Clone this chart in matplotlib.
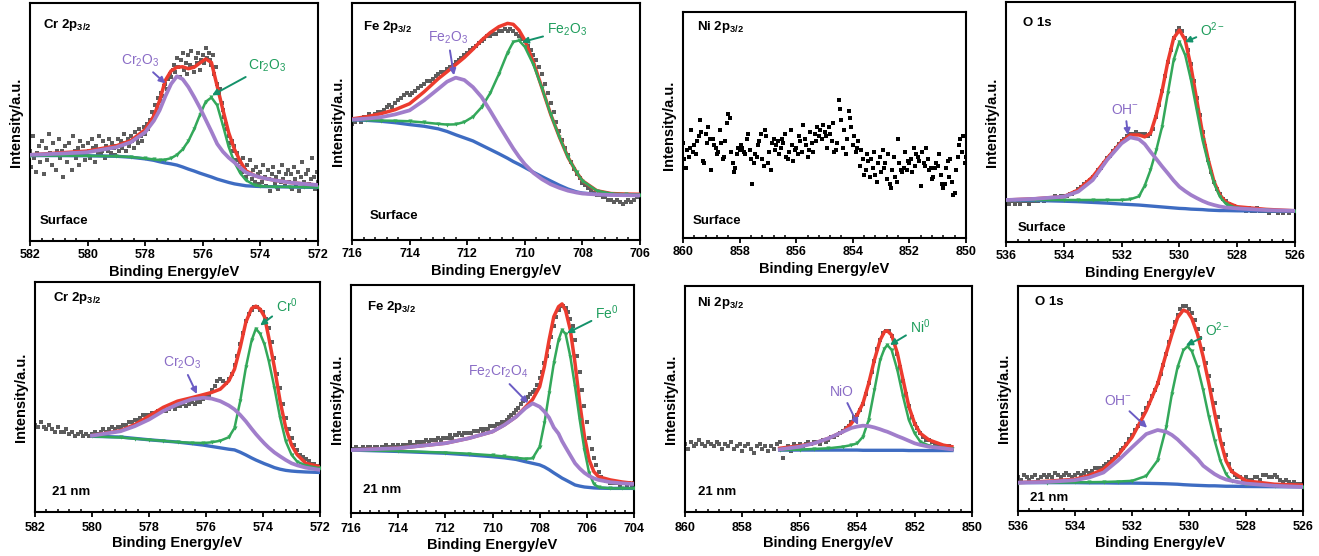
import numpy as np
import matplotlib
matplotlib.use('Agg')
import matplotlib.pyplot as plt
from matplotlib.ticker import MultipleLocator

plt.rcParams['font.family'] = ['Liberation Sans', 'DejaVu Sans']
plt.rcParams['mathtext.fontset'] = 'custom'
plt.rcParams['mathtext.rm'] = 'Liberation Sans'
plt.rcParams['mathtext.it'] = 'Liberation Sans:italic'
plt.rcParams['mathtext.bf'] = 'Liberation Sans:bold'
plt.rcParams['mathtext.default'] = 'regular'

# ---------------- Cr 2p3/2, surface ----------------
crs_raw_y = [
    38, 31, 44, 35, 29, 37, 40, 33, 42, 36, 28, 39, 34, 45, 37, 32, 41, 36, 30, 38,
    43, 35, 38, 27, 40, 36, 33, 41, 37, 30, 44, 38, 35, 39, 32, 42, 36, 40, 34, 37,
    41, 38, 35, 43, 39, 33, 40, 37, 44, 36, 38, 42, 35, 40, 38, 43, 37, 41, 39, 36,
    40, 43, 38, 42, 39, 45, 41, 38, 43, 40, 44, 42, 39, 46, 43, 41, 47, 44, 42, 48,
    45, 49, 47, 51, 50, 54, 53, 57, 56, 60, 59, 62, 61, 65, 66, 64, 68, 70, 69, 72,
    74, 71, 77, 73, 69, 76, 79, 72, 75, 70, 78, 74, 80, 73, 71, 77, 75, 79, 72, 76,
    78, 75, 81, 77, 79, 76, 74, 78, 70, 73, 66, 62, 64, 58, 55, 52, 49, 47, 44, 41,
    42, 38, 40, 34, 37, 31, 33, 29, 35, 30, 27, 32, 28, 34, 26, 30, 25, 31, 28, 24,
    29, 25, 32, 27, 23, 30, 26, 21, 28, 31, 24, 27, 22, 29, 25, 32, 26, 23, 28, 30,
    25, 28, 22, 31, 26, 24, 29, 21, 27, 33, 25, 23, 28, 30, 24, 26, 35, 27, 22, 29,
    25]
crs_fit_x = [582, 581, 580, 579, 578.5, 578, 577.7, 577.5, 577.3, 577.1, 576.9, 576.7,
             576.5, 576.3, 576.1, 575.9, 575.7, 575.5, 575.3, 575.1, 574.9, 574.7,
             574.5, 574.2, 574, 573.5, 573, 572.5, 572]
crs_bg = [35.9, 35.9, 35.8, 35.6, 35.2, 34.5, 33.9, 33.3, 32.8, 32.4, 31.9, 31.1, 30.2,
          29.4, 28.5, 27.7, 26.9, 26.0, 25.3, 24.6, 24.0, 23.6, 23.2, 23.0, 22.9, 22.8,
          22.7, 22.6, 22.5]
crs_peak1 = [36.2, 36.7, 37.3, 39.4, 41.5, 45.7, 50.5, 54.9, 60.8, 66.0, 69.2, 68.0, 64.7,
             60.5, 56.0, 51.0, 46.0, 40.8, 37.5, 35.0, 33.0, 30.8, 28.8, 27.5, 26.7, 25.5,
             24.6, 24.0, 23.5]
crs_peak2 = [35.9, 35.9, 35.8, 35.6, 35.3, 34.7, 34.3, 34.0, 34.2, 34.8, 36.2, 38.5, 42.0,
             47.0, 53.0, 58.5, 60.3, 57.0, 48.5, 39.5, 33.0, 28.5, 25.5, 23.5, 23.0, 22.8,
             22.7, 22.6, 22.5]
crs_env = [36.2, 37.0, 37.8, 40.0, 42.2, 46.8, 52.5, 59.0, 67.5, 71.5, 73.0, 73.2, 72.4,
           73.0, 74.8, 76.5, 75.0, 65.0, 55.0, 45.5, 38.5, 33.5, 29.5, 27.5, 26.7, 25.5,
           24.6, 24.0, 23.5]

# ---------------- Fe 2p3/2, surface ----------------
fes_raw_y = [
    49, 50, 51, 50, 52, 51, 53, 52, 53, 54,
    54, 55, 56, 57, 56, 58, 59, 60, 61, 62,
    61, 62, 63, 64, 65, 66, 67, 67, 68, 69,
    70, 71, 71, 72, 73, 74, 75, 76, 77, 78,
    79, 80, 81, 82, 83, 84, 85, 86, 86, 87,
    87, 88, 88, 89, 88, 89, 88, 87, 86, 85,
    84, 82, 80, 78, 76, 73, 70, 66, 62, 58,
    54, 50, 46, 42, 39, 36, 33, 30, 28, 26,
    24, 23, 22, 21, 20, 19, 19, 18, 18, 17,
    17, 16, 17, 16, 15, 16, 17, 16, 17, 18,
    18]
fes_fit_x = [716, 715.5, 715, 714.5, 714, 713.5, 713, 712.7, 712.4, 712.1, 711.8, 711.5,
             711.2, 710.9, 710.6, 710.4, 710.2, 710, 709.7, 709.4, 709.1, 708.8, 708.5,
             708.2, 708, 707.5, 707, 706.5, 706]
fes_bg = [50.7, 50.5, 50.1, 49.5, 48.7, 48.0, 46.9, 45.8, 44.4, 43.1, 41.8, 40.0, 38.2,
          36.4, 34.5, 33.1, 31.9, 30.6, 28.6, 26.7, 24.9, 23.1, 21.5, 20.3, 19.8, 19.3,
          19.1, 18.9, 18.8]
fes_peak1 = [50.8, 51.2, 51.8, 53.0, 54.7, 58.9, 63.8, 66.8, 68.5, 67.5, 64.5, 60.3, 54.5,
             48.4, 42.5, 38.6, 35.1, 32.0, 28.3, 25.6, 23.5, 22.0, 20.8, 20.0, 19.6, 19.2,
             19.0, 18.9, 18.8]
fes_peak2 = [50.7, 50.6, 50.4, 50.3, 50.1, 49.6, 49.0, 48.7, 48.8, 49.8, 52.0, 56.0, 62.0,
             70.0, 79.0, 83.6, 84.2, 81.5, 74.0, 64.0, 53.0, 43.5, 34.9, 28.5, 25.0, 20.8,
             19.6, 19.3, 19.1]
fes_env = [51.1, 52.0, 53.3, 55.0, 57.5, 62.5, 68.1, 71.0, 74.0, 77.0, 80.5, 84.3, 87.5,
           90.0, 91.4, 91.0, 88.5, 84.3, 75.0, 64.0, 53.0, 43.5, 34.9, 28.5, 25.0, 20.8,
           19.6, 19.4, 19.3]

# ---------------- Ni 2p3/2, surface ----------------
nis_raw_y = [
    42, 35, 31, 39, 36, 40, 48, 38, 41, 37, 43, 45, 52, 47, 34, 33, 46, 42, 49, 44,
    30, 44, 41, 40, 37, 38, 48, 42, 35, 36, 43, 51, 55, 53, 38, 33, 29, 31, 37, 40,
    39, 41, 40, 38, 37, 44, 46, 39, 35, 24, 33, 37, 36, 41, 43, 46, 35, 32, 48, 45,
    33, 38, 30, 42, 44, 39, 41, 43, 37, 40, 44, 42, 46, 36, 35, 38, 48, 41, 34, 39,
    40, 37, 45, 43, 38, 50, 44, 41, 36, 39, 47, 42, 38, 46, 43, 49, 45, 48, 44, 50,
    47, 45, 40, 49, 46, 43, 51, 38, 39, 42, 61, 57, 52, 40, 48, 37, 44, 56, 53, 49,
    41, 45, 38, 40, 43, 32, 39, 35, 28, 30, 37, 34, 27, 35, 31, 38, 28, 25, 33, 36,
    29, 39, 31, 33, 26, 37, 24, 22, 30, 36, 27, 25, 44, 33, 30, 29, 31, 38, 30, 34,
    33, 35, 29, 40, 32, 37, 36, 34, 23, 38, 33, 32, 40, 35, 30, 31, 26, 27, 31, 33,
    32, 37, 28, 24, 22, 24, 31, 34, 27, 35, 25, 19, 20, 30, 36, 41, 44, 38, 45, 33,
    36]

# ---------------- O 1s, surface ----------------
os_raw_y = [
    17, 16, 17, 16, 17, 16, 17, 17, 16, 17,
    17, 17, 18, 17, 18, 18, 18, 19, 18, 19,
    19, 19, 20, 20, 21, 22, 23, 24, 25, 26,
    27, 28, 30, 31, 33, 35, 36, 38, 39, 41,
    42, 43, 44, 45, 45, 46, 45, 45, 45, 44,
    45, 47, 52, 57, 63, 69, 75, 80, 85, 88,
    89, 88, 85, 80, 74, 67, 60, 53, 46, 40,
    34, 29, 25, 22, 20, 18, 17, 16, 15, 15,
    14, 14, 14, 13, 14, 13, 13, 14, 13, 13,
    13, 12, 13, 13, 12, 13, 12, 13, 12, 13,
    13]
os_fit_x = [536, 535, 534, 533.5, 533, 532.5, 532, 531.7, 531.4, 531.2, 531, 530.8, 530.6,
            530.4, 530.2, 530, 529.8, 529.6, 529.4, 529.2, 529, 528.8, 528.6, 528.4, 528,
            527, 526]
os_bg = [17.5, 17.3, 17.0, 16.8, 16.5, 16.2, 15.8, 15.6, 15.4, 15.2, 15.0, 14.8, 14.6,
         14.4, 14.2, 14.0, 13.9, 13.7, 13.6, 13.5, 13.3, 13.2, 13.1, 13.1, 13.0, 12.9, 12.9]
os_peak1 = [17.5, 18.0, 18.9, 21.0, 25.8, 34.2, 41.1, 43.6, 42.8, 40.8, 37.6, 34.6, 31.5,
            28.6, 25.6, 23.0, 21.2, 19.6, 18.3, 17.1, 16.1, 15.4, 14.8, 14.4, 14.0, 13.3,
            13.0]
os_peak2 = [17.5, 17.5, 17.5, 17.5, 17.5, 17.5, 17.5, 17.8, 19.0, 23.5, 30.0, 38.3, 48.0,
            62.0, 75.8, 83.5, 77.9, 67.5, 55.0, 42.5, 32.8, 24.4, 18.9, 16.0, 14.0, 13.3,
            13.0]
os_env = [17.5, 18.0, 18.9, 21.7, 27.2, 34.9, 41.8, 44.6, 44.6, 43.8, 45.3, 52.9, 62.9,
          75.1, 84.9, 88.3, 84.2, 73.0, 59.2, 45.3, 34.2, 25.1, 19.6, 16.7, 14.7, 13.6,
          13.0]

# ---------------- Cr 2p3/2, 21 nm ----------------
crd_raw_y = [
    38, 37, 39, 37, 36, 38, 36, 35, 37, 35,
    35, 36, 34, 35, 33, 34, 35, 33, 34, 33,
    34, 35, 34, 35, 36, 35, 36, 37, 36, 37,
    37, 38, 38, 39, 39, 40, 40, 41, 42, 42,
    42, 43, 43, 44, 44, 45, 44, 45, 46, 45,
    46, 46, 47, 46, 47, 48, 47, 48, 48, 49,
    50, 51, 53, 55, 57, 58, 57, 56, 58, 60,
    64, 68, 73, 78, 83, 86, 88, 89, 89, 88,
    87, 84, 80, 74, 67, 60, 54, 47, 41, 36,
    32, 29, 27, 25, 24, 23, 22, 21, 21, 20,
    20]
crd_fit_x = [580, 579, 578.5, 578, 577.5, 577, 576.5, 576.1, 575.8, 575.5, 575.2, 575,
             574.8, 574.6, 574.4, 574.25, 574.1, 573.95, 573.8, 573.6, 573.4, 573.2, 573,
             572.8, 572.5, 572]
crd_bg = [32.9, 32.6, 32.0, 31.4, 30.9, 30.4, 29.7, 29.1, 28.5, 27.9, 27.3, 27.0, 26.0,
          24.8, 23.5, 22.6, 21.8, 21.0, 20.3, 19.3, 18.6, 18.1, 17.8, 17.6, 17.4, 17.2]
crd_peak1 = [33.2, 35.1, 37.3, 40.2, 43.9, 46.8, 49.0, 49.7, 49.3, 48.2, 46.3, 44.6, 42.2,
             39.4, 36.2, 33.9, 31.8, 29.8, 28.0, 25.9, 24.2, 22.6, 21.2, 20.3, 19.3, 18.3]
crd_peak2 = [32.9, 32.4, 31.9, 31.4, 30.9, 30.4, 30.1, 30.0, 30.3, 31.0, 32.5, 36.5, 48.2,
             62.9, 74.6, 79.7, 77.5, 73.0, 65.8, 54.1, 41.0, 30.7, 24.9, 21.9, 20.2, 19.0]
crd_env = [33.2, 35.4, 38.0, 41.7, 45.5, 48.2, 49.7, 51.0, 52.0, 53.4, 57.0, 62.1, 71.6,
           82.6, 88.5, 89.5, 88.2, 85.0, 76.0, 62.9, 48.2, 36.5, 29.2, 24.9, 21.2, 19.7]

# ---------------- Fe 2p3/2, 21 nm ----------------
fed_raw_y = [
    28, 28, 29, 28, 28, 29, 28, 29, 29, 28,
    29, 29, 28, 29, 29, 30, 29, 29, 30, 29,
    30, 29, 30, 30, 30, 31, 30, 30, 31, 31,
    31, 31, 32, 31, 32, 32, 32, 33, 32, 33,
    33, 33, 34, 33, 34, 34, 35, 34, 35, 35,
    35, 35, 36, 36, 36, 37, 36, 37, 37, 38,
    38, 38, 39, 39, 40, 40, 41, 42, 43, 44,
    45, 46, 48, 49, 50, 51, 52, 53, 54, 56,
    59, 62, 66, 69, 73, 77, 82, 86, 89, 91,
    91, 90, 88, 85, 82, 76, 69, 62, 54, 47,
    40, 33, 28, 24, 21, 18, 16, 15, 14, 14,
    13, 13, 13, 13, 12, 13, 13, 12, 13, 12,
    13]
fed_fit_x = [716, 714, 712, 711, 710, 709.5, 709, 708.6, 708.3, 708, 707.8, 707.6, 707.4,
             707.2, 707.05, 706.9, 706.7, 706.5, 706.3, 706.1, 705.9, 705.7, 705.5, 705,
             704.5, 704]
fed_bg = [27.6, 27.0, 26.2, 25.5, 24.7, 24.2, 23.5, 22.5, 21.8, 21.1, 20.2, 19.0, 17.6,
          16.3, 15.3, 14.5, 13.4, 12.3, 11.8, 11.4, 11.2, 11.0, 10.9, 10.8, 10.8, 10.8]
fed_peak1 = [27.6, 28.4, 30.6, 32.8, 35.7, 38.6, 42.2, 46.0, 48.1, 46.6, 44.5, 41.8, 37.5,
             34.8, 31.5, 28.8, 25.3, 21.8, 19.5, 17.6, 16.2, 15.2, 14.5, 13.5, 13.0, 12.7]
fed_peak2 = [27.6, 27.2, 26.5, 26.0, 25.3, 24.8, 24.2, 23.8, 24.0, 29.1, 39.3, 52.5, 65.7,
             75.9, 80.3, 78.5, 68.6, 55.4, 40.8, 27.6, 17.4, 12.7, 11.3, 10.8, 10.8, 10.8]
fed_env = [27.6, 28.4, 30.6, 32.8, 35.7, 38.6, 42.2, 46.5, 49.8, 55.4, 64.2, 75.9, 86.1,
           90.5, 91.7, 88.8, 80.3, 65.7, 48.1, 33.5, 23.2, 18.1, 15.9, 14.5, 13.6, 13.0]

# ---------------- Ni 2p3/2, 21 nm ----------------
nid_raw_y = [
    30, 28, 31, 29, 30, 32, 30, 29, 31, 30,
    29, 31, 30, 28, 30, 29, 31, 28, 29, 30,
    27, 29, 30, 28, 26, 29, 30, 28, 29, 27,
    29, 28, 30, 31, 24, 28, 29, 27, 30, 29,
    30, 29, 30, 31, 30, 31, 31, 30, 32, 31,
    32, 33, 33, 34, 35, 36, 37, 38, 40, 42,
    43, 45, 48, 52, 57, 62, 67, 72, 76, 79,
    80, 80, 78, 75, 70, 64, 58, 52, 47, 42,
    39, 37, 35, 33, 32, 32, 31, 30, 30, 29,
    29, 28, 29, 28]
nid_fit_x = [856.7, 856, 855.5, 855, 854.5, 854.2, 854, 853.8, 853.6, 853.4, 853.2,
             853.05, 852.95, 852.8, 852.6, 852.4, 852.2, 852, 851.8, 851.5, 851, 850.7]
nid_bg = [27.4, 27.4, 27.4, 27.4, 27.4, 27.4, 27.4, 27.3, 27.3, 27.3, 27.3, 27.3, 27.3,
          27.3, 27.3, 27.3, 27.2, 27.2, 27.2, 27.2, 27.2, 27.2]
nid_peak1 = [27.7, 28.9, 30.4, 32.6, 35.5, 37.2, 37.8, 38.2, 38.0, 37.4, 36.6, 35.9, 35.5,
             34.7, 33.6, 32.6, 31.5, 30.4, 29.7, 28.9, 28.2, 27.7]
nid_peak2 = [27.4, 27.6, 27.9, 28.2, 28.9, 29.6, 30.4, 33.3, 40.7, 54.0, 67.3, 72.3, 73.9,
             71.7, 62.8, 51.0, 40.7, 34.8, 31.1, 29.4, 28.2, 27.7]
nid_env = [28.2, 29.3, 30.4, 32.6, 35.5, 39.2, 42.9, 48.1, 56.9, 67.3, 76.1, 79.8, 80.2,
           78.3, 70.2, 58.4, 46.6, 39.2, 34.8, 31.9, 29.6, 28.9]

# ---------------- O 1s, 21 nm ----------------
od_raw_y = [
    15, 14, 16, 15, 14, 15, 16, 14, 15, 16,
    15, 16, 15, 17, 16, 15, 16, 17, 16, 15,
    16, 17, 16, 17, 18, 17, 18, 19, 19, 19,
    20, 21, 22, 23, 24, 25, 27, 28, 30, 32,
    34, 36, 38, 40, 43, 46, 48, 51, 54, 57,
    61, 65, 70, 75, 80, 84, 87, 90, 91, 91,
    90, 88, 85, 81, 77, 72, 66, 60, 54, 48,
    42, 36, 30, 25, 21, 18, 16, 15, 15, 14,
    15, 14, 14, 15, 15, 14, 16, 16, 15, 15,
    16, 15, 14, 13, 14, 13, 12, 13, 12, 12,
    12]
od_fit_x = [536, 535, 534, 533.5, 533, 532.5, 532, 531.5, 531.1, 530.8, 530.6, 530.4,
            530.2, 530.05, 529.9, 529.7, 529.5, 529.3, 529.1, 528.9, 528.7, 528.5, 528,
            527, 526]
od_bg = [12.6, 12.6, 12.6, 12.5, 12.5, 12.4, 12.4, 12.3, 12.2, 12.1, 12.0, 11.9, 11.7,
         11.6, 11.5, 11.4, 11.3, 11.2, 11.2, 11.1, 11.0, 11.0, 10.9, 10.8, 10.7]
od_peak1 = [12.6, 12.9, 13.7, 14.9, 17.1, 22.3, 28.3, 34.2, 36.0, 35.2, 33.8, 31.8, 29.3,
            27.5, 25.6, 23.2, 20.1, 18.2, 16.4, 15.0, 14.0, 13.4, 12.2, 11.2, 10.7]
od_peak2 = [12.6, 12.6, 12.7, 12.8, 12.9, 13.1, 13.4, 15.6, 22.5, 37.2, 52.1, 64.0, 71.4,
            73.2, 71.0, 64.0, 53.6, 41.7, 31.3, 22.3, 16.4, 13.4, 11.9, 11.2, 10.7]
od_env = [12.6, 13.2, 14.1, 15.8, 18.6, 24.6, 32.7, 44.6, 56.5, 70.0, 78.5, 86.0, 89.3,
          88.5, 85.5, 78.5, 68.4, 56.5, 43.5, 31.5, 22.3, 17.5, 13.4, 11.9, 11.5]

# ---------------- styling ----------------
RED = '#ec3b2e'
BLUE = '#3e6cc2'
GREEN = '#33a85a'
PURPLE = '#a17ecb'
GRAY = '#5c5c5c'
PTXT = '#8a6cc6'
PARR = '#6b5cc4'
GTXT = '#1f9d5c'
GARR = '#14926a'

W, H = 1319, 556
fig = plt.figure(figsize=(W / 100, H / 100), dpi=100)


def make_ax(x0, x1, y0, y1, emax, emin, ticks, pad, lpad):
    ax = fig.add_axes([x0 / W, 1 - y1 / H, (x1 - x0) / W, (y1 - y0) / H])
    ax.set_xlim(emax, emin)
    ax.set_ylim(0, 100)
    ax.set_yticks([])
    ax.set_xticks(ticks)
    ax.set_xticklabels([str(t) for t in ticks])
    ax.xaxis.set_minor_locator(MultipleLocator(0.4))
    ax.tick_params(axis='x', which='major', direction='out', length=3.5, width=1.3,
                   labelsize=9, pad=pad)
    ax.tick_params(axis='x', which='minor', direction='in', length=2, width=1.1,
                   top=False)
    for lab in ax.get_xticklabels():
        lab.set_fontweight('bold')
    for s in ax.spines.values():
        s.set_linewidth(1.5)
    ax.set_xlabel('Binding Energy/eV', fontsize=10.5, fontweight='bold', labelpad=lpad)
    ax.set_ylabel('Intensity/a.u.', fontsize=10.5, fontweight='bold', labelpad=5)
    return ax


def raw(ax, start, stop, y, color=GRAY, ms=2.9):
    x = np.linspace(start, stop, len(y))
    ax.plot(x, y, ls='none', marker='s', ms=ms, color=color, mew=0, zorder=1.5)


def fit(ax, x, bg, p1, p2, env):
    ax.plot(x, env, color=RED, lw=2.5, zorder=3)
    ax.plot(x, bg, color=BLUE, lw=2.4, zorder=4)
    ax.plot(x, p2, color=GREEN, lw=1.8, marker='v', ms=3, mew=0, zorder=5)
    ax.plot(x, p1, color=PURPLE, lw=2.7, zorder=6)


def labels(ax, title, tpos, sample, spos):
    ax.text(tpos[0], tpos[1], title, transform=ax.transAxes, fontsize=9.5,
            fontweight='bold', ha='left', va='center')
    ax.text(spos[0], spos[1], sample, transform=ax.transAxes, fontsize=9.5,
            fontweight='bold', ha='left', va='center')


def note(ax, text, tip, tpos, tcol, acol):
    ax.annotate(text, xy=tip, xycoords='data', xytext=tpos, textcoords='axes fraction',
                color=tcol, fontsize=10, ha='center', va='center', zorder=10,
                arrowprops=dict(arrowstyle='-|>', color=acol, lw=1.4, mutation_scale=9,
                                shrinkA=1, shrinkB=0))


CR = r'Cr 2$\mathbf{p_{3/2}}$'
FE = r'Fe 2$\mathbf{p_{3/2}}$'
NI = r'Ni 2$\mathbf{p_{3/2}}$'
OS = 'O 1s'

# Top row
ax = make_ax(30, 318, 3, 241, 582, 572, [582, 580, 578, 576, 574, 572], 2, 3)
raw(ax, 582, 572, crs_raw_y)
fit(ax, crs_fit_x, crs_bg, crs_peak1, crs_peak2, crs_env)
labels(ax, CR, (0.045, 0.907), 'Surface', (0.035, 0.086))
note(ax, r'Cr$_2$O$_3$', (577.3, 66.2), (0.382, 0.759), PTXT, PARR)
note(ax, r'Cr$_2$O$_3$', (575.68, 61.2), (0.823, 0.738), GTXT, GARR)

ax = make_ax(352, 640, 3, 240, 716, 706, [716, 714, 712, 710, 708, 706], 2, 3)
raw(ax, 716, 706, fes_raw_y)
fit(ax, fes_fit_x, fes_bg, fes_peak1, fes_peak2, fes_env)
labels(ax, FE, (0.038, 0.898), 'Surface', (0.0625, 0.10))
note(ax, r'Fe$_2$O$_3$', (712.46, 69.5), (0.333, 0.852), PTXT, PARR)
note(ax, r'Fe$_2$O$_3$', (710.1, 83.5), (0.747, 0.886), GTXT, GARR)

ax = make_ax(683, 966, 12, 238, 860, 850, [860, 858, 856, 854, 852, 850], 2, 3)
raw(ax, 860, 850, nis_raw_y, color='black', ms=2.8)
labels(ax, NI, (0.048, 0.933), 'Surface', (0.035, 0.076))

ax = make_ax(1006, 1295, 2, 242, 536, 526, [536, 534, 532, 530, 528, 526], 2, 3)
raw(ax, 536, 526, os_raw_y)
fit(ax, os_fit_x, os_bg, os_peak1, os_peak2, os_env)
labels(ax, OS, (0.059, 0.912), 'Surface', (0.042, 0.058))
note(ax, r'OH$^{-}$', (531.78, 44.6), (0.412, 0.55), PTXT, PARR)
note(ax, r'O$^{2-}$', (529.81, 83.3), (0.716, 0.883), GTXT, GARR)

# Bottom row
ax = make_ax(35, 320, 282, 512, 582, 572, [582, 580, 578, 576, 574, 572], 3.5, 2)
raw(ax, 582, 572, crd_raw_y)
fit(ax, crd_fit_x, crd_bg, crd_peak1, crd_peak2, crd_env)
labels(ax, CR, (0.063, 0.93), '21 nm', (0.06, 0.085))
note(ax, r'Cr$_2$O$_3$', (576.32, 51.3), (0.516, 0.649), PTXT, PARR)
note(ax, r'Cr$^0$', (574.1, 81.1), (0.884, 0.899), GTXT, GARR)

ax = make_ax(351, 634, 285, 513, 716, 704, [716, 714, 712, 710, 708, 706, 704], 3.5, 2)
raw(ax, 716, 704, fed_raw_y)
fit(ax, fed_fit_x, fed_bg, fed_peak1, fed_peak2, fed_env)
labels(ax, FE, (0.055, 0.904), '21 nm', (0.042, 0.10))
note(ax, r'Fe$_2$Cr$_2$O$_4$', (708.49, 48.2), (0.519, 0.618), PTXT, PARR)
note(ax, r'Fe$^0$', (706.84, 78.9), (0.905, 0.877), GTXT, GARR)

ax = make_ax(685, 972, 286, 512, 860, 850, [860, 858, 856, 854, 852, 850], 3.5, 2)
raw(ax, 860, 850.7, nid_raw_y)
fit(ax, nid_fit_x, nid_bg, nid_peak1, nid_peak2, nid_env)
labels(ax, NI, (0.041, 0.925), '21 nm', (0.045, 0.088))
note(ax, 'NiO', (853.97, 38.5), (0.547, 0.531), PTXT, PARR)
note(ax, r'Ni$^0$', (852.86, 73.9), (0.819, 0.819), GTXT, GARR)

ax = make_ax(1018, 1303, 286, 511, 536, 526, [536, 534, 532, 530, 528, 526], 3.5, 2)
raw(ax, 536, 526, od_raw_y)
fit(ax, od_fit_x, od_bg, od_peak1, od_peak2, od_env)
labels(ax, OS, (0.06, 0.929), '21 nm', (0.042, 0.056))
note(ax, r'OH$^{-}$', (531.47, 37.0), (0.351, 0.491), PTXT, PARR)
note(ax, r'O$^{2-}$', (530.1, 73.7), (0.702, 0.804), GTXT, GARR)

fig.savefig('out.png', dpi=100)
